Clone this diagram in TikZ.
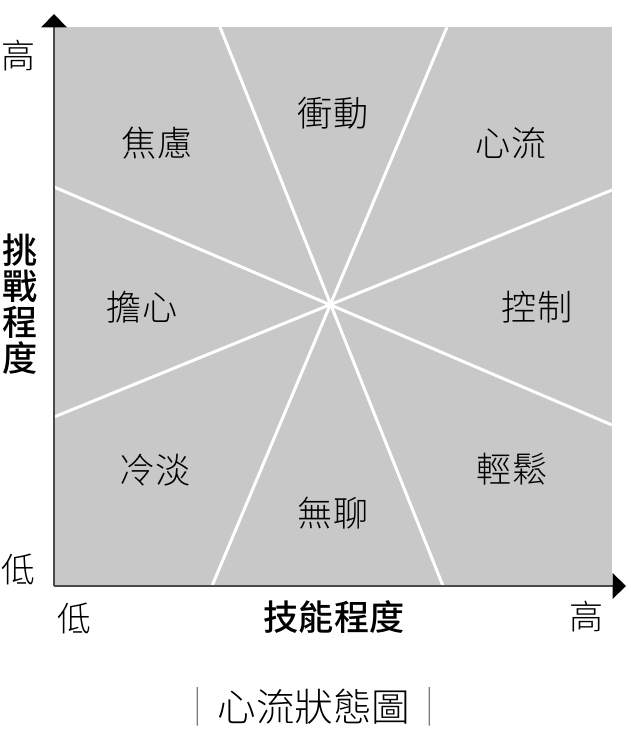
\documentclass[tikz,border=0pt]{standalone}
\usepackage{fontspec}
\newfontfamily\cjk{Noto Sans CJK TC Light}
\newfontfamily\cjkmed{Noto Sans CJK TC Medium}
\usepackage{xcolor}
\usetikzlibrary{arrows.meta}
\definecolor{panelgray}{HTML}{C8C8C8}
\definecolor{axisgray}{HTML}{4A4A4A}

\begin{document}
\begin{tikzpicture}[
    x=0.3mm, y=-0.3mm,
    zone/.style={font=\cjk\fontsize{30}{36}\selectfont, inner sep=0pt},
    tick/.style={font=\cjk\fontsize{29}{34}\selectfont, inner sep=0pt},
    axislabel/.style={font=\cjkmed\fontsize{30}{30.7}\selectfont, align=center, inner sep=0pt},
    axis/.style={-{Triangle[length=4mm, width=7.6mm, black]}, axisgray, line width=0.45mm},
    divider/.style={white, line width=0.9mm}
]
\useasboundingbox (0,0) rectangle (631,735);
\fill[panelgray] (54,27) rectangle (612,586);

% ends of the four dividing lines
\coordinate (t1) at (220,27);  \coordinate (b1) at (443,586);
\coordinate (t2) at (447,27);  \coordinate (b2) at (212,586);
\coordinate (l1) at (54,187);  \coordinate (r1) at (612,425);
\coordinate (l2) at (54,417);  \coordinate (r2) at (612,190);

\draw[divider] (t1) -- (b1);
\draw[divider] (t2) -- (b2);
\draw[divider] (l1) -- (r1);
\draw[divider] (l2) -- (r2);

% axes
\coordinate (o) at (54,586);
\coordinate (ytop) at (54,14);
\coordinate (xend) at (626,586);
\draw[axis] (o) -- (ytop);
\draw[axis] (o) -- (xend);

% zones
\node[zone] (anx) at (157,143) {焦慮};
\node[zone] (aro) at (333,113) {衝動};
\node[zone] (flow) at (511,143) {心流};
\node[zone] (worry) at (142,307) {擔心};
\node[zone] (ctrl) at (537,307) {控制};
\node[zone] (apa) at (155,470) {冷淡};
\node[zone] (bore) at (333,513) {無聊};
\node[zone] (relax) at (512,469) {輕鬆};

% axis ticks and titles
\node[tick] (yhi) at (18,56) {高};
\node[tick] (ylo) at (18,569) {低};
\node[tick] (xlo) at (74,618) {低};
\node[tick] (xhi) at (586,617) {高};
\node[axislabel] (xlabel) at (334,617) {技能程度};
\node[axislabel] (ylabel) at (20,304) {挑\\戰\\程\\度};

\node[font=\cjk\fontsize{33}{40}\selectfont, inner sep=0pt] (caption) at (314,707)
    {{\color{gray}｜}心流狀態圖{\color{gray}｜}};
\end{tikzpicture}
\end{document}
